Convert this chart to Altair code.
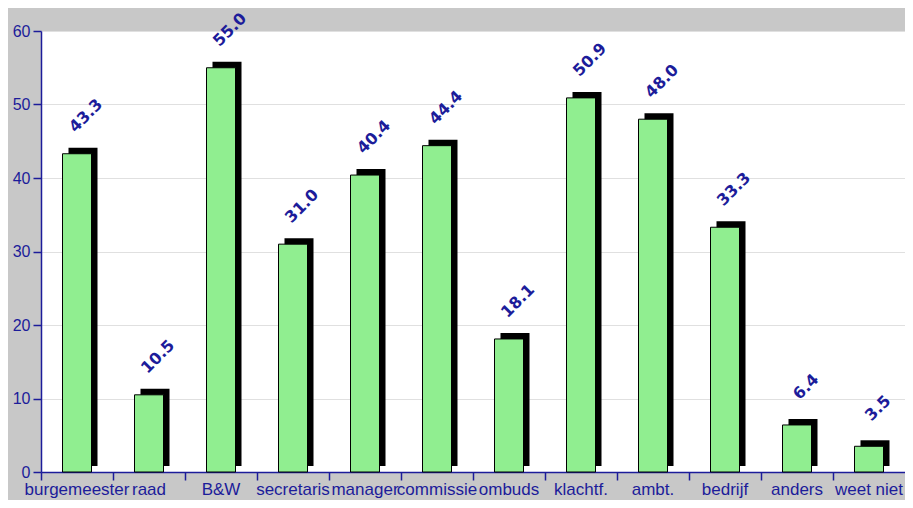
import altair as alt
import pandas as pd

categories = ["burgemeester", "raad", "B&W", "secretaris", "manager", "commissie",
              "ombuds", "klachtf.", "ambt.", "bedrijf", "anders", "weet niet"]
values = [43.3, 10.5, 55.0, 31.0, 40.4, 44.4, 18.1, 50.9, 48.0, 33.3, 6.4, 3.5]
y_ticks = [0, 10, 20, 30, 40, 50, 60]

df = pd.DataFrame({"cat": categories, "val": values,
                   "label": [f"{v:.1f}" for v in values]})

NAVY = "#1c1c9a"

x_enc = alt.X("cat:N", sort=categories,
              scale=alt.Scale(paddingInner=0, paddingOuter=0),
              axis=alt.Axis(title=None, labelAngle=0, bandPosition=0,
                            tickSize=8, tickColor=NAVY, tickWidth=1.5,
                            domainColor=NAVY, domainWidth=1.5,
                            labelColor=NAVY, labelFont="Liberation Sans", labelFontSize=17,
                            labelPadding=1, grid=False))
y_enc = alt.Y("val:Q", scale=alt.Scale(domain=[0, 60], nice=False),
              axis=alt.Axis(title=None, values=y_ticks, tickSize=8, tickColor=NAVY, tickWidth=1.5,
                            domainColor=NAVY, domainWidth=1.5,
                            labelColor=NAVY, labelFont="Liberation Sans", labelFontSize=16,
                            labelPadding=3, grid=True, gridColor="#e0e0e0", gridWidth=1))

base = alt.Chart(df).encode(x=x_enc, y=y_enc)

shadow = base.mark_bar(size=29, color="black", xOffset=6, yOffset=-6, y2Offset=-6)
bars = base.mark_bar(size=29, color="#90EE90", stroke="black", strokeWidth=1)
labels = base.mark_text(angle=315, font="DejaVu Sans", fontWeight="bold", fontSize=16,
                        color=NAVY, align="center", baseline="middle",
                        xOffset=9, yOffset=-38).encode(text="label:N")

chart = alt.layer(shadow, bars, labels).properties(
    width=864, height=441,
    autosize=alt.AutoSizeParams(type="none"),
    padding={"left": 33, "top": 23, "right": 0, "bottom": 28},
    background="#c8c8c8",
).configure_view(fill="white", stroke="transparent")

chart.save("out.html", embed_options={"renderer": "svg", "actions": False})
